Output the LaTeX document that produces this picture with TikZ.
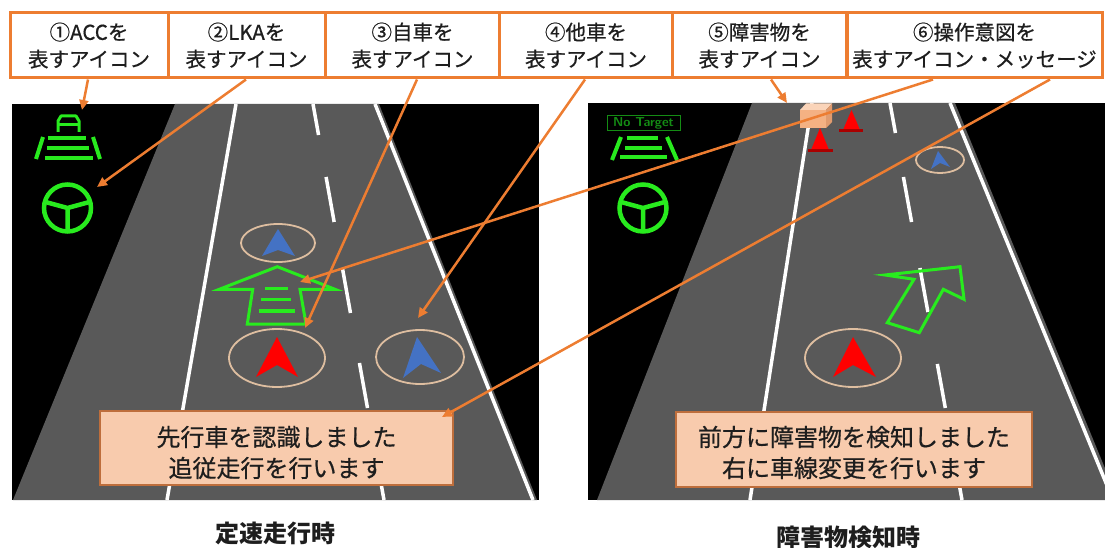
\documentclass[tikz,border=0pt]{standalone}
\usepackage{fontspec}
\newfontfamily\jp{Noto Sans CJK JP}
\newfontfamily\jpm[FakeBold=0.6]{Noto Sans CJK JP}
\usetikzlibrary{arrows.meta,calc}

\definecolor{callout}{RGB}{237,125,49}
\definecolor{road}{RGB}{89,89,89}
\definecolor{hmi}{RGB}{40,235,30}
\definecolor{hmidark}{RGB}{20,140,20}
\definecolor{carblue}{RGB}{68,114,196}
\definecolor{ring}{RGB}{222,190,160}
\definecolor{msgfill}{RGB}{248,203,173}
\definecolor{msgline}{RGB}{190,110,60}
\definecolor{ink}{RGB}{30,30,30}
\definecolor{boxfront}{RGB}{244,177,131}
\definecolor{boxtop}{RGB}{250,212,185}
\definecolor{boxside}{RGB}{225,155,110}
\definecolor{conebase}{RGB}{170,0,0}

\tikzset{
  labelbox/.style={draw=callout, line width=3pt, fill=white, minimum height=65pt,
    inner sep=0pt, align=center, font=\jpm\fontsize{20.5}{27}\selectfont, text=ink},
  msgbox/.style={draw=msgline, line width=1.2pt, fill=msgfill, inner sep=0pt},
  msgtext/.style={align=center, inner sep=0pt, font=\jpm\fontsize{24}{31}\selectfont, text=ink},
  caption/.style={font=\jp\bfseries\fontsize{24}{28}\selectfont, text=ink},
  callarrow/.style={draw=callout, line width=2.5pt, -{Triangle[length=10pt,width=9pt]}},
  lane/.style={draw=white, line width=3.5pt},
  hmiline/.style={draw=hmi, line width=4pt},
  hmioutline/.style={draw=hmi, line width=3pt, line join=miter},
  ringline/.style={draw=ring, line width=1.8pt},
}

\begin{document}
\begin{tikzpicture}[x=1pt, y=-1pt]
\useasboundingbox (0,0) rectangle (1105,548);

% ---------- left screen: cruising ----------
\fill[black] (12,104) rectangle (539,500);
\begin{scope}
  \clip (12,104) rectangle (539,500);
  \fill[road] (175,104) -- (379,104) -- (537,500) -- (13,500) -- cycle;
  \draw[lane] (236,104) -- (167,500);
  \draw[lane] (375,104) -- (533,500);
  \coordinate (lc0) at (313,104);
  \coordinate (lc1) at (384,500);
  \foreach \a/\b in {104/135, 177/222, 268/313, 363/408, 455/500}
    \draw[lane] ($(lc0)!{(\a-104)/396}!(lc1)$) -- ($(lc0)!{(\b-104)/396}!(lc1)$);
\end{scope}

% ACC icon
\draw[hmi, line width=3pt, line join=round] (58,132) -- (58,121) -- (61,116) -- (76,116) -- (79,121) -- (79,132);
\draw[hmi, line width=3pt] (57,125) -- (80,125);
\draw[hmiline] (48,138) -- (86,138) (47,148) -- (89,148) (45,158) -- (93,158);
\draw[hmiline] (43,137) -- (36,159) (93,137) -- (100,159);
% LKA icon
\draw[hmi, line width=4.5pt] (67.5,208) circle[radius=23.5];
\draw[hmi, line width=4.5pt] (67.5,208) -- +(-22,-6) (67.5,208) -- +(22,-6) (67.5,208) -- +(0,23);

% preceding vehicle (far)
\draw[ringline] (278,243) ellipse[x radius=37, y radius=19];
\fill[carblue] (278,229) -- (295,256) -- (278,250) -- (262,256) -- cycle;
% follow icon
\draw[hmioutline] (219.3,289.3) -- (277.3,266.7) -- (335,289.3) -- (300,289.3) -- (306,324)
  -- (247.3,324) -- (252.7,289.3) -- cycle;
\draw[hmi, line width=3.5pt] (265,288.5) -- (288,288.5) (261,299.5) -- (291,299.5) (258.5,311) -- (294.5,311);
% own vehicle
\draw[ringline] (277,358) ellipse[x radius=48, y radius=29];
\fill[red] (277,337) -- (298,377) -- (277,365) -- (256,377) -- cycle;
% adjacent vehicle
\draw[ringline] (420,357) ellipse[x radius=44, y radius=27];
\fill[carblue] (417,337) -- (441,373) -- (421,364) -- (403,378) -- cycle;

% message
\node[msgbox, minimum width=353pt, minimum height=74pt] (msgL) at (276.5,448) {};
\node[msgtext] (msgLtext) at (276.5,452.5) {先行車を認識しました\\追従走行を行います};

% ---------- right screen: obstacle detected ----------
\fill[black] (588,103) rectangle (1105,500);
\begin{scope}
  \clip (588,103) rectangle (1105,500);
  \fill[road] (752,103) -- (955,103) -- (1118,500) -- (597,500) -- cycle;
  \draw[lane] (812,103) -- (750,500);
  \draw[lane] (950,103) -- (1113,500);
  \coordinate (rc0) at (890,103);
  \coordinate (rc1) at (962,500);
  \foreach \a/\b in {103/133, 177/222, 268/312, 364/408, 455/500}
    \draw[lane] ($(rc0)!{(\a-103)/397}!(rc1)$) -- ($(rc0)!{(\b-103)/397}!(rc1)$);
\end{scope}

% ACC icon without target
\node[draw=hmidark, line width=1pt, minimum width=73pt, minimum height=15pt, inner sep=0pt,
  text=hmidark, font=\sffamily\bfseries\fontsize{13}{13}\selectfont] (notarget) at (643.5,123.5) {No Target};
\draw[hmiline] (627,138) -- (658,138) (625,148) -- (662,148) (620,157.5) -- (667,157.5);
\draw[hmiline] (621,137) -- (612,160) (667,137) -- (677,160);
% LKA icon
\draw[hmi, line width=4.5pt] (643,208) circle[radius=23.5];
\draw[hmi, line width=4.5pt] (643,208) -- +(-22,-6) (643,208) -- +(22,-6) (643,208) -- +(0,23);

% obstacle: box and cones
\fill[boxfront] (800,110) rectangle (826,128);
\fill[boxtop] (800,110) -- (806,103.5) -- (832,103.5) -- (826,110) -- cycle;
\fill[boxside] (826,110) -- (832,103.5) -- (832,122) -- (826,128) -- cycle;
\fill[red] (820,128) -- (829,150) -- (811,150) -- cycle;
\fill[conebase] (808,149.5) rectangle (833,152.5);
\fill[red] (851.5,110) -- (860,130) -- (843,130) -- cycle;
\fill[conebase] (839,129.5) rectangle (863,132.5);

% vehicle in the right lane
\draw[ringline] (940,160) ellipse[x radius=24, y radius=13];
\fill[carblue] (938,151) -- (950,167) -- (940,163) -- (931,169) -- cycle;
% lane change icon
\draw[hmioutline] (885,275) -- (960,266.7) -- (964,299.3) -- (943.3,289.3) -- (919.3,332.7)
  -- (887.3,322.7) -- (914,279.3) -- cycle;
% own vehicle
\draw[ringline] (853,358) ellipse[x radius=48, y radius=29];
\fill[red] (853,337) -- (876,377) -- (853,365) -- (833,377) -- cycle;

% message
\node[msgbox, minimum width=356pt, minimum height=75pt] (msgR) at (854,449.5) {};
\node[msgtext] (msgRtext) at (854,452.5) {前方に障害物を検知しました\\右に車線変更を行います};

% ---------- captions ----------
\node[caption] (capL) at (275,533) {定速走行時};
\node[caption] (capR) at (848,537) {障害物検知時};

% ---------- labels ----------
\node[labelbox, minimum width=158pt] (b1) at (89,45.5) {①ACCを\\表すアイコン};
\node[labelbox, minimum width=157pt] (b2) at (246.5,45.5) {②LKAを\\表すアイコン};
\node[labelbox, minimum width=175pt] (b3) at (412.5,45.5) {③自車を\\表すアイコン};
\node[labelbox, minimum width=173pt] (b4) at (586,45.5) {④他車を\\表すアイコン};
\node[labelbox, minimum width=174pt] (b5) at (759.5,45.5) {⑤障害物を\\表すアイコン};
\node[labelbox, minimum width=255pt] (b6) at (974.5,45.5) {⑥操作意図を\\表すアイコン・メッセージ};

% ---------- call-out targets ----------
\coordinate (accL) at (82,110);
\coordinate (lkaL) at (97,187);
\coordinate (ownL) at (305,328);
\coordinate (otherL) at (418,318);
\coordinate (obst) at (787,103);
\coordinate (intentL) at (300,282);
\coordinate (msgtarget) at (442,417);

\draw[callarrow] ([xshift=-1pt]b1.south) -- (accL);
\draw[callarrow] ([xshift=-0.5pt]b2.south) -- (lkaL);
\draw[callarrow] ([xshift=4.5pt]b3.south) -- (ownL);
\draw[callarrow] ([xshift=-1pt]b4.south) -- (otherL);
\draw[callarrow] ([xshift=11.5pt]b5.south) -- (obst);
\draw[callarrow] ([xshift=-41.5pt]b6.south) -- (intentL);
\draw[callarrow] ([xshift=75.5pt]b6.south) -- (msgtarget);
\end{tikzpicture}
\end{document}
